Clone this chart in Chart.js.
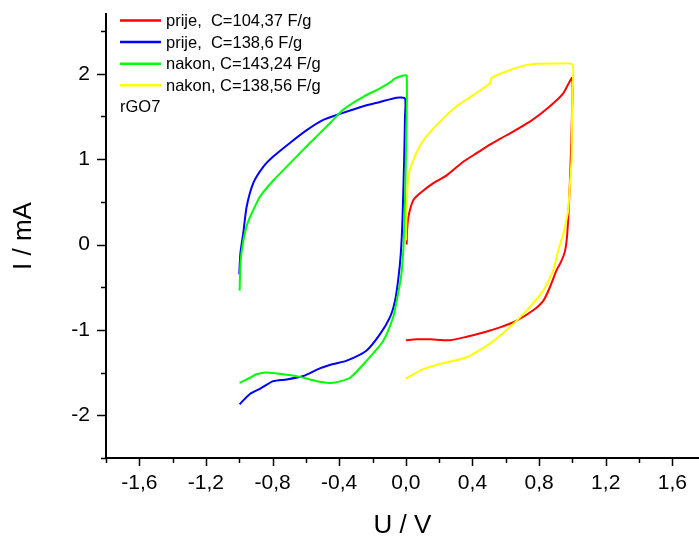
<!DOCTYPE html>
<html>
<head>
<meta charset="utf-8">
<script src="https://cdn.jsdelivr.net/npm/chart.js@4/dist/chart.umd.min.js"></script>
<style>
html,body{margin:0;padding:0;background:#fff;overflow:hidden;}
canvas{display:block;}
</style>
</head>
<body>
<canvas id="c" width="699" height="538"></canvas>
<script>
// ---- data (U / V, I / mA) ----
const seriesLabels = ['prije,  C=104,37 F/g', 'prije,  C=138,6 F/g', 'nakon, C=143,24 F/g', 'nakon, C=138,56 F/g'];
const seriesColors = ['#FF0000', '#0000FF', '#00FF00', '#FFFF00'];
const annotationText = 'rGO7';

const redU = [0.005, 0.007, 0.015, 0.045, 0.085, 0.165, 0.245, 0.345, 0.425, 0.505, 0.605, 0.745, 0.865, 0.945, 0.998, 0.997, 0.99, 0.98, 0.968, 0.955, 0.93, 0.905, 0.865, 0.825, 0.765, 0.665, 0.565, 0.465, 0.365, 0.265, 0.145, 0.065, 0.0];
const redI = [0.0, 0.15, 0.32, 0.52, 0.60, 0.72, 0.81, 0.97, 1.07, 1.17, 1.28, 1.44, 1.62, 1.77, 1.95, 1.5, 1.0, 0.5, 0.1, -0.08, -0.21, -0.30, -0.50, -0.66, -0.77, -0.89, -0.97, -1.03, -1.08, -1.12, -1.11, -1.11, -1.12];

const blueU = [-1.0, -0.993, -0.976, -0.956, -0.916, -0.856, -0.796, -0.696, -0.595, -0.496, -0.396, -0.256, -0.155, -0.055, -0.005, -0.005, -0.01, -0.02, -0.03, -0.045, -0.065, -0.095, -0.155, -0.235, -0.355, -0.436, -0.516, -0.616, -0.716, -0.796, -0.876, -0.936, -0.998];
const blueI = [-0.35, -0.1, 0.13, 0.44, 0.72, 0.91, 1.03, 1.19, 1.34, 1.46, 1.53, 1.62, 1.67, 1.72, 1.71, 1.5, 1.0, 0.3, -0.1, -0.4, -0.66, -0.85, -1.05, -1.24, -1.36, -1.40, -1.45, -1.54, -1.58, -1.60, -1.69, -1.75, -1.87];

const greenU = [-0.998, -0.992, -0.975, -0.955, -0.936, -0.876, -0.796, -0.696, -0.576, -0.456, -0.376, -0.256, -0.155, -0.085, -0.07, -0.016, 0.005, 0.005, 0.0, -0.005, -0.016, -0.03, -0.055, -0.076, -0.136, -0.235, -0.335, -0.436, -0.535, -0.636, -0.736, -0.836, -0.896, -0.936, -0.998];
const greenI = [-0.54, -0.2, 0.05, 0.22, 0.32, 0.56, 0.75, 0.95, 1.19, 1.42, 1.58, 1.73, 1.83, 1.91, 1.94, 1.98, 1.98, 1.5, 1.0, 0.5, -0.1, -0.4, -0.66, -0.85, -1.13, -1.36, -1.56, -1.62, -1.60, -1.55, -1.52, -1.50, -1.52, -1.56, -1.62];

const yellowU = [0.0, 0.005, 0.015, 0.045, 0.105, 0.205, 0.305, 0.405, 0.505, 0.515, 0.605, 0.745, 0.905, 1.0, 1.0, 0.997, 0.995, 0.985, 0.975, 0.96, 0.945, 0.915, 0.885, 0.825, 0.745, 0.645, 0.505, 0.365, 0.205, 0.105, 0.0];
const yellowI = [0.05, 0.4, 0.79, 0.99, 1.22, 1.44, 1.62, 1.75, 1.89, 1.95, 2.03, 2.11, 2.12, 2.11, 1.77, 1.4, 0.99, 0.7, 0.40, 0.25, 0.12, -0.07, -0.30, -0.54, -0.73, -0.93, -1.16, -1.32, -1.40, -1.46, -1.57];

// ---- axes ----
const xTickValues = [-1.8, -1.6, -1.4, -1.2, -1.0, -0.8, -0.6, -0.4, -0.2, 0, 0.2, 0.4, 0.6, 0.8, 1.0, 1.2, 1.4, 1.6];
const xMajor = [-1.6, -1.2, -0.8, -0.4, 0, 0.4, 0.8, 1.2, 1.6];
const yTickValues = [-2.5, -2, -1.5, -1, -0.5, 0, 0.5, 1, 1.5, 2, 2.5];
const yMajor = [-2, -1, 0, 1, 2];
const xRange = [-1.8, 1.76];
const yRange = [-2.5, 2.7];
const xTitle = 'U / V';
const yTitle = 'I / mA';

const isIn = (arr, v) => arr.some(a => Math.abs(a - v) < 1e-6);
const pts = (u, i) => u.map((v, k) => ({x: v, y: i[k]}));
const allU = [redU, blueU, greenU, yellowU];
const allI = [redI, blueI, greenI, yellowI];

const FONT = '"Liberation Sans", Arial, sans-serif';

const datasets = seriesLabels.map((lab, k) => ({
  label: lab,
  data: pts(allU[k], allI[k]),
  borderColor: seriesColors[k],
  backgroundColor: seriesColors[k],
  borderWidth: 2,
  pointRadius: 0,
  showLine: true,
  fill: false,
  tension: 0.2,
  order: 4 - k
}));

const tickPlugin = {
  id: 'ticks',
  afterDraw(chart) {
    const ctx = chart.ctx;
    const xs = chart.scales.x, ys = chart.scales.y;
    const ca = chart.chartArea;
    ctx.save();
    ctx.strokeStyle = '#000';
    ctx.lineWidth = 1.5;
    xs.ticks.forEach(t => {
      const px = Math.round(xs.getPixelForValue(t.value)) + 0.5;
      const len = isIn(xMajor, t.value) ? 8 : 5;
      ctx.beginPath(); ctx.moveTo(px, ca.bottom); ctx.lineTo(px, ca.bottom + len); ctx.stroke();
    });
    ys.ticks.forEach(t => {
      const py = Math.round(ys.getPixelForValue(t.value)) + 0.5;
      const len = isIn(yMajor, t.value) ? 9 : 5;
      ctx.beginPath(); ctx.moveTo(ca.left - len, py); ctx.lineTo(ca.left, py); ctx.stroke();
    });
    // legend
    const lx = 120, ly0 = 20.5, dy = 21.6;
    ctx.font = '16.5px ' + FONT;
    ctx.textBaseline = 'middle';
    ctx.textAlign = 'left';
    chart.data.datasets.forEach((ds, k) => {
      const y = ly0 + k * dy;
      ctx.strokeStyle = ds.borderColor;
      ctx.lineWidth = 2.5;
      ctx.beginPath(); ctx.moveTo(lx, y); ctx.lineTo(lx + 41, y); ctx.stroke();
      ctx.fillStyle = '#000';
      ctx.fillText(ds.label, lx + 46, y + 1);
    });
    ctx.fillText(annotationText, lx, ly0 + 4 * dy + 1);
    ctx.restore();
  }
};

new Chart(document.getElementById('c'), {
  type: 'scatter',
  data: {datasets},
  options: {
    responsive: false,
    devicePixelRatio: 1,
    animation: false,
    layout: {padding: {top: 14, right: 0, left: 0, bottom: 0}},
    plugins: {legend: {display: false}, tooltip: {enabled: false}},
    scales: {
      x: {
        type: 'linear',
        min: xRange[0], max: xRange[1],
        afterBuildTicks: s => { s.ticks = xTickValues.map(v => ({value: v})); },
        afterFit: s => { s.height = 80; s.paddingLeft = 0; s.paddingRight = 0; },
        grid: {display: false, drawTicks: false},
        border: {display: true, color: '#000', width: 2},
        ticks: {
          autoSkip: false, maxRotation: 0, padding: 13, color: '#000',
          font: {family: FONT, size: 21},
          callback: v => isIn(xMajor, v) ? (Math.abs(v) < 1e-9 ? '0,0' : v.toFixed(1).replace('.', ',')) : ''
        },
        title: {display: true, text: xTitle, color: '#000', font: {family: FONT, size: 26, lineHeight: 0.9}, padding: {top: 0, bottom: 0}}
      },
      y: {
        type: 'linear',
        min: yRange[0], max: yRange[1],
        afterBuildTicks: s => { s.ticks = yTickValues.map(v => ({value: v})); },
        afterFit: s => { s.width = 106; s.paddingTop = 0; s.paddingBottom = 0; },
        grid: {display: false, drawTicks: false},
        border: {display: true, color: '#000', width: 2},
        ticks: {
          autoSkip: false, padding: 16, color: '#000',
          font: {family: FONT, size: 21},
          callback: v => isIn(yMajor, v) ? String(Math.round(v)) : ''
        },
        title: {display: true, text: yTitle, color: '#000', font: {family: FONT, size: 26}, padding: {top: 8, bottom: 0}}
      }
    }
  },
  plugins: [tickPlugin]
});
</script>
</body>
</html>
